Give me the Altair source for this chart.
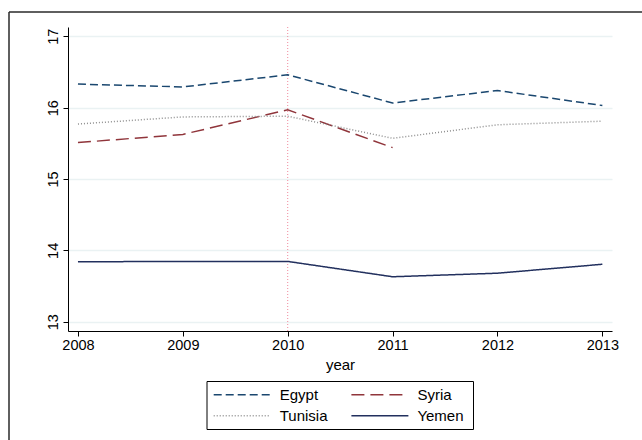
import altair as alt
import pandas as pd

years = [2008, 2009, 2010, 2011, 2012, 2013]
egypt = [16.33, 16.29, 16.46, 16.065, 16.24, 16.03]
syria = [15.51, 15.625, 15.97, 15.44, None, None]
tunisia = [15.77, 15.87, 15.88, 15.57, 15.76, 15.81]
yemen = [13.84, 13.845, 13.845, 13.63, 13.68, 13.805]
countries = ["Egypt", "Syria", "Tunisia", "Yemen"]
colors = ["#1a476f", "#90353b", "#8f8f8f", "#22305e"]
dashes = [[8, 4], [13, 6], [1, 2], [1, 0]]
marker_year = [2010]
y_ticks = [13, 14, 15, 16, 17]

rows = []
for name, vals in zip(countries, [egypt, syria, tunisia, yemen]):
    for yr, v in zip(years, vals):
        if v is not None:
            rows.append({"year": yr, "value": v, "country": name})
df = pd.DataFrame(rows)

# legend entries laid out row-major in 2 columns
leg = pd.DataFrame({
    "country": countries,
    "col": [i % 2 for i in range(len(countries))],
    "row": [i // 2 for i in range(len(countries))],
})

FONT = "Liberation Sans"
W, H = 544, 304

xscale = alt.Scale(domain=[2007.905, 2013.092], nice=False, zero=False)
yscale = alt.Scale(domain=[12.87, 17.13], nice=False, zero=False)
cscale = alt.Scale(domain=countries, range=colors)
dscale = alt.Scale(domain=countries, range=dashes)

lines = alt.Chart(df).mark_line(strokeWidth=1.5, clip=True).encode(
    x=alt.X("year:Q", scale=xscale,
            axis=alt.Axis(values=years, format="d", title="year", grid=False,
                          tickSize=5, labelPadding=2, titlePadding=6,
                          labelFontSize=14.5, titleFontSize=15,
                          titleFontWeight="normal")),
    y=alt.Y("value:Q", scale=yscale,
            axis=alt.Axis(values=y_ticks, title=None, grid=True, tickSize=5,
                          labelAngle=270, labelAlign="center",
                          labelBaseline="bottom", labelPadding=3,
                          labelFontSize=14.5)),
    color=alt.Color("country:N", scale=cscale, legend=None),
    strokeDash=alt.StrokeDash("country:N", scale=dscale, legend=None),
    detail="country:N",
)

vline = alt.Chart(pd.DataFrame({"year": marker_year})).mark_rule(
    color="#f08a9c", strokeDash=[1, 2], strokeWidth=1
).encode(x=alt.X("year:Q", scale=xscale, axis=None))

frame_top = alt.Chart().mark_rule(color="#2a2a2a", strokeWidth=1.5).encode(
    x=alt.value(-59), x2=alt.value(640), y=alt.value(-15))
frame_left = alt.Chart().mark_rule(color="#2a2a2a", strokeWidth=1.5).encode(
    x=alt.value(-59), y=alt.value(-15), y2=alt.value(450))

# legend box
leg_box = alt.Chart().mark_rect(fill="white", stroke="black", strokeWidth=1).encode(
    x=alt.value(139), x2=alt.value(405.5), y=alt.value(354.5), y2=alt.value(402.5))

lx = alt.Scale(domain=[0, 1], range=[145.7, 283.4])
ly = alt.Scale(domain=[0, 1], range=[367.8, 388.8])

leg_sym = alt.Chart(leg).mark_rule(strokeWidth=1.5, x2Offset=57).encode(
    x=alt.X("col:Q", scale=lx, axis=None),
    x2="col:Q",
    y=alt.Y("row:Q", scale=ly, axis=None),
    color=alt.Color("country:N", scale=cscale, legend=None),
    strokeDash=alt.StrokeDash("country:N", scale=dscale, legend=None),
)
leg_txt = alt.Chart(leg).mark_text(
    align="left", baseline="middle", dx=66, font=FONT, fontSize=15, color="black"
).encode(
    x=alt.X("col:Q", scale=lx, axis=None),
    y=alt.Y("row:Q", scale=ly, axis=None),
    text="country:N",
)

legend_layer = alt.layer(leg_box, leg_sym, leg_txt)

chart = alt.layer(frame_top, frame_left, vline, lines, legend_layer).resolve_scale(
    x="independent", y="independent"
).properties(
    width=W, height=H,
    autosize=alt.AutoSizeParams(type="none"),
    padding={"left": 68, "top": 27, "right": 30, "bottom": 109},
    background="white",
).configure_view(stroke=None).configure_axis(
    domainColor="black", tickColor="black", labelColor="black",
    titleColor="black", gridColor="#eaf2f3", gridWidth=1.5,
    labelFont=FONT, titleFont=FONT, domainWidth=1, tickWidth=1,
)

chart.save("out.html", embed_options={"renderer": "svg", "actions": False})
